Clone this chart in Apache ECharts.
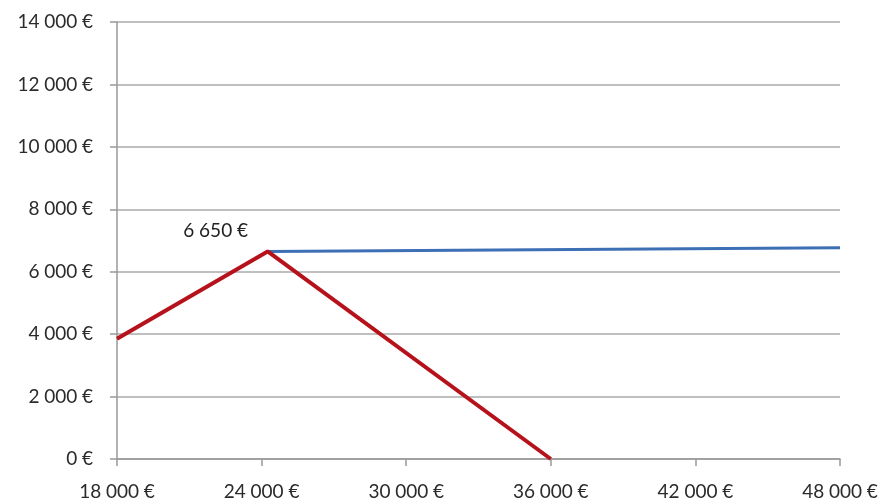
<!DOCTYPE html>
<html>
<head>
<meta charset="utf-8">
<script src="https://cdn.jsdelivr.net/npm/echarts@6/dist/echarts.min.js"></script>
<style>
  html, body { margin: 0; padding: 0; background: #fff; }
  #chart { width: 883px; height: 501px; }
</style>
</head>
<body>
<div id="chart"></div>
<script>
// red line: salary -> amount
const redX = [18000, 24250, 36000];
const redY = [3850, 6650, 0];
// blue line
const blueX = [24250, 48000];
const blueY = [6650, 6770];
const peakLabel = '6 650 €';

function euro(v) {
    let s = String(Math.round(v));
    s = s.replace(/\B(?=(\d{3})+(?!\d))/g, '\u202f');
    return s + '\u202f€';
}

const chart = echarts.init(document.getElementById('chart'));

const labelFont = { color: '#2b2b2b', fontFamily: 'Lato', fontSize: 19 };

const option = {
    animation: false,
    grid: { left: 117, right: 43, top: 22, bottom: 42, containLabel: false },
    xAxis: {
        type: 'value',
        min: 18000,
        max: 48000,
        interval: 6000,
        axisLine: { show: true, lineStyle: { color: '#999', width: 1.5 } },
        axisTick: { show: true, length: 7, lineStyle: { color: '#999', width: 1.5 } },
        splitLine: { show: false },
        axisLabel: Object.assign({ formatter: euro, margin: 23 }, labelFont)
    },
    yAxis: {
        type: 'value',
        min: 0,
        max: 14000,
        interval: 2000,
        axisLine: { show: true, lineStyle: { color: '#999', width: 1.5 } },
        axisTick: { show: true, length: 7, lineStyle: { color: '#999', width: 1.5 } },
        splitLine: { show: true, lineStyle: { color: '#aaa', width: 1.5 } },
        axisLabel: Object.assign({ formatter: euro, margin: 24 }, labelFont)
    },
    series: [
        {
            name: 'blue',
            type: 'line',
            data: blueX.map((x, i) => [x, blueY[i]]),
            symbol: 'none',
            lineStyle: { color: '#3d6fb5', width: 3 },
            z: 2
        },
        {
            name: 'red',
            type: 'line',
            data: redX.map((x, i) => {
                const item = { value: [x, redY[i]] };
                if (i === 1) {
                    item.label = {
                        show: true,
                        position: 'top',
                        distance: 0,
                        offset: [-52, -11],
                        formatter: peakLabel,
                        color: '#222',
                        fontFamily: 'Lato',
                        fontSize: 19
                    };
                }
                return item;
            }),
            showSymbol: true,
            symbol: 'circle',
            symbolSize: 0,
            lineStyle: { color: '#b5121b', width: 4 },
            z: 3
        }
    ]
};

chart.setOption(option);
</script>
</body>
</html>
